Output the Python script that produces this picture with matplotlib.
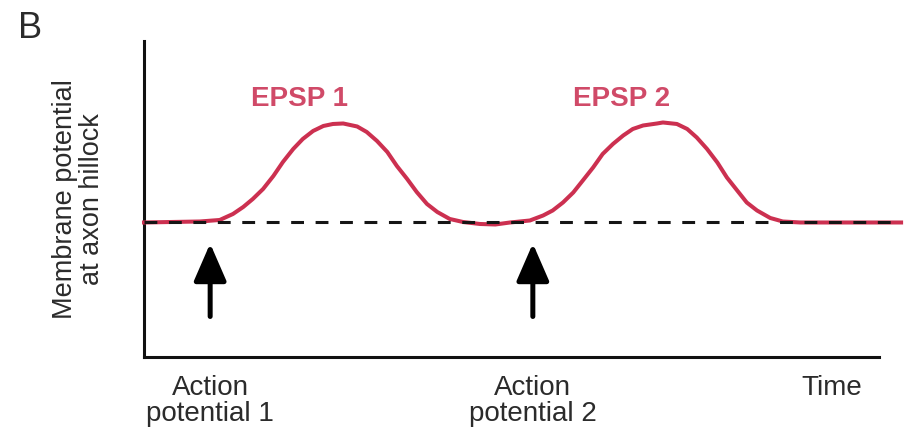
import numpy as np
import matplotlib
matplotlib.use("Agg")
import matplotlib.pyplot as plt
import matplotlib.transforms as mtransforms

plt.rcParams['font.family'] = ['Liberation Sans', 'DejaVu Sans']

# membrane potential trace (time in % of axis, potential in arbitrary units)
time = [0, 7.6, 10.3, 12.1, 13.5, 14.8, 16.2, 17.6, 18.9, 20.3, 21.6, 23.0, 24.4, 25.7,
        27.1, 29.0, 30.3, 31.7, 33.1, 34.4, 35.8, 37.1, 38.5, 39.9, 41.6, 43.4, 45.7,
        47.8, 49.8, 52.5, 54.3, 55.6, 57.0, 58.4, 59.7, 61.1, 62.4, 63.8, 65.2, 66.5,
        67.9, 69.8, 70.6, 72.5, 73.9, 75.2, 76.6, 78.0, 79.3, 80.7, 82.0, 83.4, 85.2,
        86.9, 89.3, 103.0]
potential = [0, 0.1, 0.25, 0.85, 1.55, 2.35, 3.35, 4.65, 6.05, 7.35, 8.35, 9.15, 9.65, 9.85,
             9.9, 9.6, 9.05, 8.15, 7.05, 5.65, 4.35, 3.05, 1.85, 1.05, 0.35, 0.05, -0.15,
             -0.2, 0.0, 0.2, 0.7, 1.2, 2.0, 3.0, 4.2, 5.5, 6.85, 7.85, 8.7, 9.35,
             9.7, 9.9, 10.0, 9.85, 9.35, 8.5, 7.35, 6.0, 4.5, 3.2, 2.0, 1.2, 0.45,
             0.1, 0.0, 0.0]
resting = 0
resting_end = 103.0

# action potential arrival times and EPSP labels
ap_times = [9.0, 52.9]
ap_labels = ["Action\npotential 1", "Action\npotential 2"]
epsp_labels = ["EPSP 1", "EPSP 2"]
epsp_label_x = [21.2, 65.0]
epsp_label_y = 12.4

red = '#cc3050'
text_col = '#2b2b2b'

fig = plt.figure(figsize=(9.08, 4.31), dpi=100)
ax = fig.add_axes([0.1586, 0.1694, 0.8095, 0.7332])
ax.set_xlim(0, 100)
ax.set_ylim(-13.45, 18.15)

ax.plot(time, potential, color=red, lw=2.9, clip_on=False, zorder=3,
        solid_joinstyle='round')
ax.plot([0, resting_end], [resting, resting], color='#151515', lw=2.2,
        dashes=(4.2, 3.8), clip_on=False, zorder=4)

for x in ap_times:
    ax.annotate('', xy=(x, -2.1), xytext=(x, -9.4),
                arrowprops=dict(arrowstyle='-|>,head_length=1.15,head_width=0.5',
                                lw=3.6, color='black', mutation_scale=20,
                                shrinkA=0, shrinkB=0))

for lab, x in zip(epsp_labels, epsp_label_x):
    ax.text(x, epsp_label_y, lab, color='#d04a68', fontsize=20, fontweight='bold',
            ha='center', va='center')

trans = mtransforms.blended_transform_factory(ax.transData, ax.transAxes)
for lab, x in zip(ap_labels, ap_times):
    ax.text(x, -0.135, lab, transform=trans, ha='center', va='center',
            fontsize=20, color=text_col, linespacing=1.0)
ax.text(93.6, -0.094, "Time", transform=trans, ha='center', va='center',
        fontsize=20, color=text_col)

fig.text(0.0865, 0.538, "Membrane potential\nat axon hillock", rotation=90,
         ha='center', va='center', fontsize=19.5, color=text_col, linespacing=1.05)
fig.text(0.033, 0.935, "B", ha='center', va='center', fontsize=26, color=text_col)

for s in ['top', 'right']:
    ax.spines[s].set_visible(False)
for s in ['left', 'bottom']:
    ax.spines[s].set_linewidth(2.2)
    ax.spines[s].set_color('#111111')
ax.set_xticks([])
ax.set_yticks([])

fig.savefig('out.png', dpi=100)
